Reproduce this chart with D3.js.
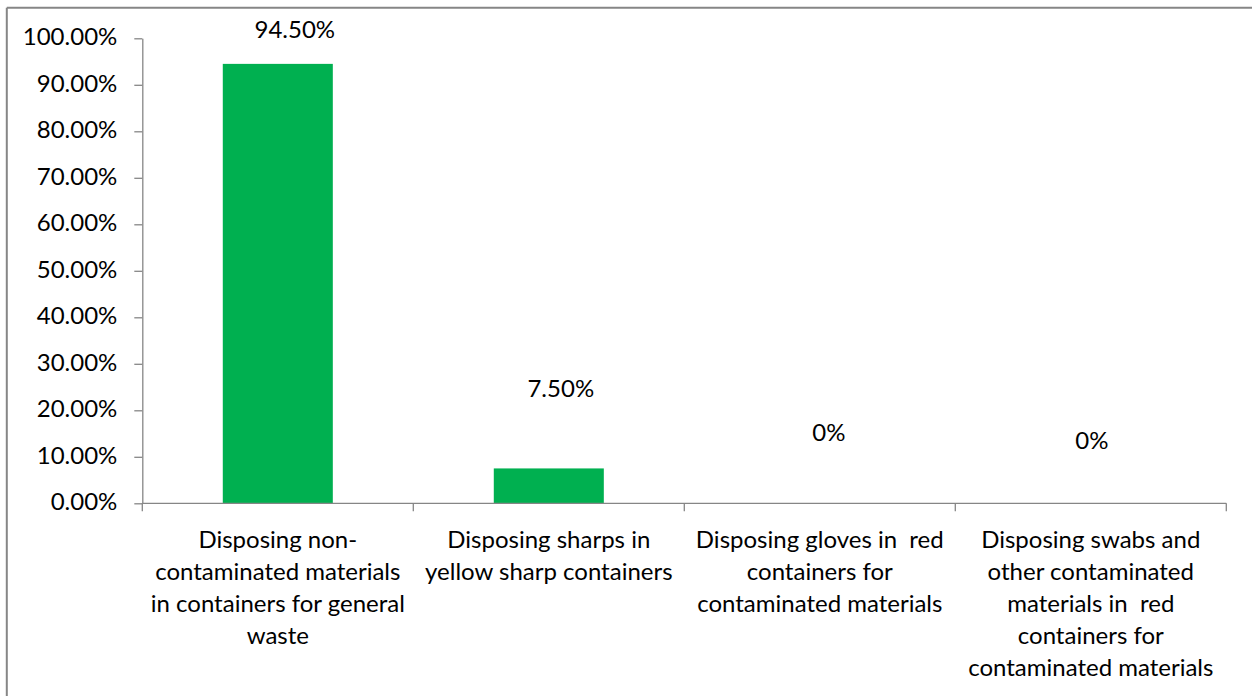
<!DOCTYPE html>
<html>
<head>
<meta charset="utf-8">
<script src="https://cdn.jsdelivr.net/npm/d3@7"></script>
<style>
  html, body { margin: 0; padding: 0; background: #fff; }
  svg { display: block; }
  text { font-family: "Lato", "Open Sans", sans-serif; fill: #000; }
</style>
</head>
<body>
<script>
// ---- data ----
const categories = [
  "Disposing non-contaminated materials in containers for general waste",
  "Disposing sharps in yellow sharp containers",
  "Disposing gloves in  red containers for contaminated materials",
  "Disposing swabs and other contaminated materials in  red containers for contaminated materials"
];
const categoryLines = [
  ["Disposing non-", "contaminated materials", "in containers for general", "waste"],
  ["Disposing sharps in", "yellow sharp containers"],
  ["Disposing gloves in  red", "containers for", "contaminated materials"],
  ["Disposing swabs and", "other contaminated", "materials in  red", "containers for", "contaminated materials"]
];
const values = [0.945, 0.075, 0, 0];
const valueLabels = ["94.50%", "7.50%", "0%", "0%"];
const yTicks = [0, 0.1, 0.2, 0.3, 0.4, 0.5, 0.6, 0.7, 0.8, 0.9, 1.0];

// ---- layout (styling only) ----
const W = 1252, H = 696;
const plot = { left: 142.3, right: 1226.3, top: 38.3, bottom: 503.3 };
const labelDx = [17, 12, 9, 1];
const labelDy = [-26, -71.5, -62, -54];
const fontSize = 24;
const axisColor = "#868686";
const barColor = "#00B050";

const svg = d3.select("body").append("svg").attr("width", W).attr("height", H);

// outer chart border (top and left visible)
svg.append("line").attr("x1", 6.8).attr("x2", W).attr("y1", 7.7).attr("y2", 7.7)
  .attr("stroke", axisColor).attr("stroke-width", 2);
svg.append("line").attr("x1", 6.8).attr("x2", 6.8).attr("y1", 7.7).attr("y2", H)
  .attr("stroke", axisColor).attr("stroke-width", 2);

const x = d3.scaleBand().domain(categories)
  .range([plot.left, plot.right])
  .paddingInner(0.594).paddingOuter(0.297);
const y = d3.scaleLinear().domain([0, 1]).range([plot.bottom, plot.top]);

// bars
svg.append("g").selectAll("rect").data(values).join("rect")
  .attr("x", (d, i) => x(categories[i]))
  .attr("width", x.bandwidth())
  .attr("y", d => y(d))
  .attr("height", d => y(0) - y(d))
  .attr("fill", barColor);

// y axis
const yAxis = svg.append("g").attr("transform", `translate(${plot.left},0)`)
  .call(d3.axisLeft(y).tickValues(yTicks).tickFormat(d3.format(".2%")).tickSize(8).tickPadding(17).tickSizeOuter(0));
yAxis.select(".domain").attr("stroke", axisColor).attr("stroke-width", 1.3);
yAxis.selectAll(".tick line").attr("stroke", axisColor).attr("stroke-width", 1.3);
yAxis.selectAll(".tick text").attr("font-size", fontSize).attr("font-family", "Lato, sans-serif")
  .attr("fill", "#000").attr("dy", "0.26em");

// x axis line with boundary ticks
const step = x.step();
const gap = (step - x.bandwidth()) / 2;
const boundaries = categories.map(c => x(c) - gap).concat([x(categories[categories.length - 1]) + x.bandwidth() + gap]);
const xAxis = svg.append("g");
xAxis.append("line").attr("x1", boundaries[0]).attr("x2", boundaries[boundaries.length - 1])
  .attr("y1", y(0)).attr("y2", y(0)).attr("stroke", axisColor).attr("stroke-width", 1.3);
xAxis.selectAll("line.tk").data(boundaries).join("line").attr("class", "tk")
  .attr("x1", d => d).attr("x2", d => d).attr("y1", y(0)).attr("y2", y(0) + 8)
  .attr("stroke", axisColor).attr("stroke-width", 1.3);

// category labels
const catG = svg.append("g").selectAll("text").data(categories).join("text")
  .attr("text-anchor", "middle").attr("font-size", fontSize)
  .attr("x", d => x(d) + x.bandwidth() / 2)
  .attr("y", y(0) + 44.7);
catG.each(function(d, i) {
  d3.select(this).selectAll("tspan").data(categoryLines[i]).join("tspan")
    .attr("x", x(d) + x.bandwidth() / 2)
    .attr("dy", (l, j) => j === 0 ? 0 : 32)
    .attr("xml:space", "preserve")
    .style("white-space", "pre")
    .text(l => l);
});

// value labels
svg.append("g").selectAll("text").data(values).join("text")
  .attr("text-anchor", "middle").attr("font-size", fontSize)
  .attr("x", (d, i) => x(categories[i]) + x.bandwidth() / 2 + labelDx[i])
  .attr("y", (d, i) => y(d) + labelDy[i])
  .text((d, i) => valueLabels[i]);
</script>
</body>
</html>
